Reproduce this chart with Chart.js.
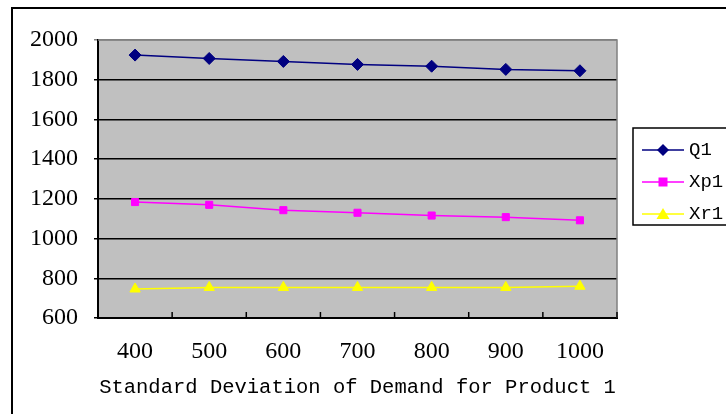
<!DOCTYPE html>
<html>
<head>
<meta charset="utf-8">
<script src="https://cdn.jsdelivr.net/npm/chart.js@4.4.1/dist/chart.umd.min.js"></script>
<style>
  html, body { margin: 0; padding: 0; background: #fff; overflow: hidden; }
  #moldura { position: absolute; left: 11px; top: 7px; width: 800px; height: 500px; border: 2px solid #000; }
  #grafico { position: absolute; left: 0; top: 0; }
</style>
</head>
<body>
<div id="moldura"></div>
<canvas id="grafico" width="726" height="414"></canvas>
<script>
// Dados
const categorias = ['400', '500', '600', '700', '800', '900', '1000'];
const serieQ1 = [1924, 1907, 1892, 1877, 1868, 1852, 1845];
const serieXp1 = [1184, 1170, 1143, 1130, 1116, 1108, 1092];
const serieXr1 = [746, 754, 754, 754, 754, 754, 760];
const eixoY = { min: 600, max: 2000, passo: 200 };
const tituloX = 'Standard Deviation of Demand for Product 1';

// Fundo cinza da área do gráfico + borda cinza em cima e à direita
const fundoPlugin = {
    id: 'fundo',
    beforeDraw(chart) {
        const a = chart.chartArea;
        const ctx = chart.ctx;
        ctx.save();
        ctx.fillStyle = '#C0C0C0';
        ctx.fillRect(a.left, a.top, a.right - a.left, a.bottom - a.top);
        ctx.restore();
    },
    beforeDatasetsDraw(chart) {
        const a = chart.chartArea;
        const ctx = chart.ctx;
        ctx.save();
        ctx.strokeStyle = '#808080';
        ctx.lineWidth = 1.5;
        ctx.beginPath();
        ctx.moveTo(a.left, a.top);
        ctx.lineTo(a.right, a.top);
        ctx.lineTo(a.right, a.bottom);
        ctx.stroke();

        // marcas do eixo X viradas para dentro, entre as categorias
        const x = chart.scales.x;
        const passo = (a.right - a.left) / categorias.length;
        ctx.strokeStyle = '#000';
        ctx.lineWidth = 1.5;
        for (let i = 1; i <= categorias.length; i++) {
            const px = x.left + i * passo;
            ctx.beginPath();
            ctx.moveTo(px, a.bottom);
            ctx.lineTo(px, a.bottom - 6);
            ctx.stroke();
        }
        ctx.restore();
    }
};

function desenharMarcador(ctx, estilo, cx, cy, cor) {
    ctx.fillStyle = cor;
    ctx.beginPath();
    if (estilo === 'rectRot') {
        ctx.moveTo(cx, cy - 6); ctx.lineTo(cx + 6, cy); ctx.lineTo(cx, cy + 6); ctx.lineTo(cx - 6, cy);
    } else if (estilo === 'rect') {
        ctx.rect(cx - 4.5, cy - 4.5, 9, 9);
    } else {
        ctx.moveTo(cx, cy - 6); ctx.lineTo(cx + 6.5, cy + 5); ctx.lineTo(cx - 6.5, cy + 5);
    }
    ctx.closePath();
    ctx.fill();
}

// Legenda desenhada à direita, como no original
const legendaPlugin = {
    id: 'legendaCustom',
    afterDraw(chart) {
        const a = chart.chartArea;
        const ctx = chart.ctx;
        const esq = a.right + 16;
        const topo = 128;
        ctx.save();
        ctx.fillStyle = '#fff';
        ctx.fillRect(esq, topo, 200, 97);
        ctx.strokeStyle = '#000';
        ctx.lineWidth = 1.5;
        ctx.strokeRect(esq, topo, 200, 97);
        ctx.font = '19px "Liberation Mono", monospace';
        ctx.textBaseline = 'middle';
        chart.data.datasets.forEach((ds, i) => {
            const y = topo + 22 + i * 32;
            ctx.strokeStyle = ds.borderColor;
            ctx.lineWidth = 1.5;
            ctx.beginPath();
            ctx.moveTo(esq + 9, y);
            ctx.lineTo(esq + 51, y);
            ctx.stroke();
            desenharMarcador(ctx, ds.pointStyle, esq + 30, y, ds.pointBackgroundColor);
            ctx.fillStyle = '#000';
            ctx.fillText(ds.label, esq + 56, y);
        });
        ctx.restore();
    }
};

const ctx = document.getElementById('grafico').getContext('2d');
new Chart(ctx, {
    type: 'line',
    data: {
        labels: categorias,
        datasets: [
            { label: 'Q1', data: serieQ1, borderColor: '#000080', pointBackgroundColor: '#000080', pointBorderColor: '#000080', pointStyle: 'rectRot', pointRadius: 6 },
            { label: 'Xp1', data: serieXp1, borderColor: '#FF00FF', pointBackgroundColor: '#FF00FF', pointBorderColor: '#FF00FF', pointStyle: 'rect', pointRadius: 5 },
            { label: 'Xr1', data: serieXr1, borderColor: '#FFFF00', pointBackgroundColor: '#FFFF00', pointBorderColor: '#FFFF00', pointStyle: 'triangle', pointRadius: 6 }
        ]
    },
    options: {
        responsive: false,
        animation: false,
        elements: { line: { borderWidth: 1.5, tension: 0 }, point: { borderWidth: 1 } },
        layout: { padding: { left: 0, top: 40, right: 109, bottom: 0 } },
        plugins: { legend: { display: false }, tooltip: { enabled: false } },
        scales: {
            x: {
                offset: true,
                afterFit(scale) { scale.height = 96; },
                grid: { display: false, drawOnChartArea: false, drawTicks: false },
                border: { display: true, color: '#000', width: 2 },
                ticks: { color: '#000', padding: 19, font: { family: '"Liberation Serif", serif', size: 24 } },
                title: {
                    display: true, text: tituloX, color: '#000',
                    font: { family: '"Liberation Mono", monospace', size: 20.5 },
                    padding: { top: 0, bottom: 14 }
                }
            },
            y: {
                min: eixoY.min, max: eixoY.max,
                afterFit(scale) { scale.width = 98; },
                grid: {
                    color: c => (c.tick && c.tick.value === eixoY.max) ? '#808080' : '#000',
                    lineWidth: 1.5,
                    tickLength: 4,
                    drawTicks: true
                },
                border: { display: true, color: '#000', width: 2 },
                ticks: {
                    stepSize: eixoY.passo, color: '#000', padding: 16,
                    font: { family: '"Liberation Serif", serif', size: 24 },
                    callback: v => String(v)
                }
            }
        }
    },
    plugins: [fundoPlugin, legendaPlugin]
});
</script>
</body>
</html>
